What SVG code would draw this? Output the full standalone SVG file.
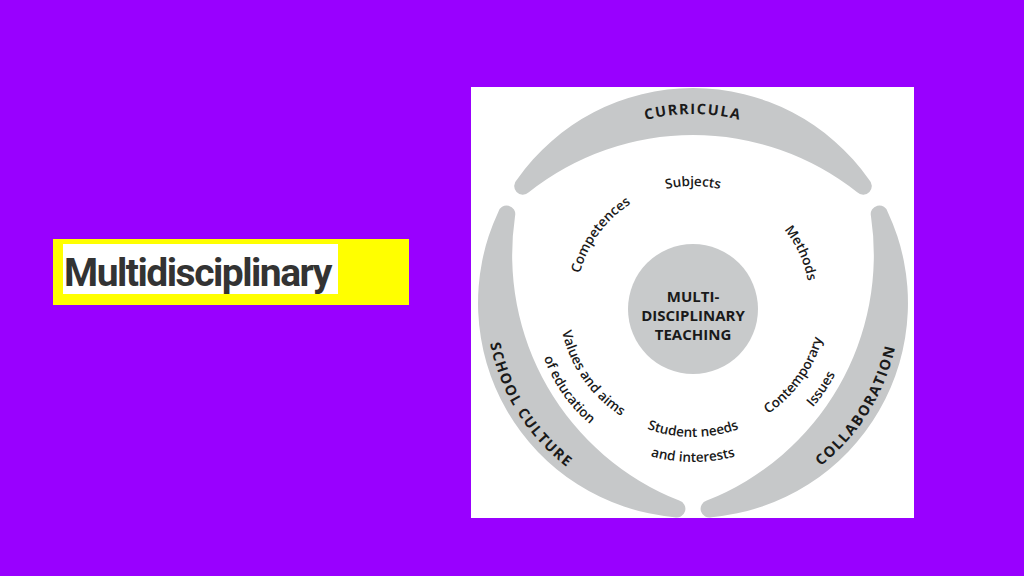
<svg xmlns="http://www.w3.org/2000/svg" xmlns:xlink="http://www.w3.org/1999/xlink" width="1024" height="576" viewBox="0 0 1024 576">
<style>
.ring{fill:#c6c8c9}
.lab{font-family:"Open Sans","Liberation Sans",sans-serif;font-weight:600;font-size:13.5px;fill:#1a1a1a}
.out{font-family:"Open Sans","Liberation Sans",sans-serif;font-weight:700;font-size:14.5px;fill:#1a1a1a;letter-spacing:1.5px}
.ctr{font-family:"Open Sans","Liberation Sans",sans-serif;font-weight:700;font-size:15px;fill:#1a1a1a;text-anchor:middle}
</style>
<defs>
<path id="cwOut" d="M693,492 A189,189 0 0 1 693,114 A189,189 0 0 1 693,492"/>
<path id="ccwOut" d="M693,96 A207,207 0 0 0 693,510 A207,207 0 0 0 693,96"/>
<path id="cwIn" d="M693,420 A117,117 0 0 1 693,186 A117,117 0 0 1 693,420"/>
<path id="ccwIn1" d="M693,169 A134,134 0 0 0 693,437 A134,134 0 0 0 693,169"/>
<path id="ccwIn2" d="M693,144 A159,159 0 0 0 693,462 A159,159 0 0 0 693,144"/>
<path id="crescent" d="M516.9,179.7 A215,215 0 0 1 869.1,179.7 A8,8 0 0 1 857.2,192.3 A264,264 0 0 0 528.8,192.3 A8,8 0 0 1 516.9,179.7 Z"/>
</defs>
<rect width="1024" height="576" fill="#9900ff"/>
<g id="title">
<rect x="53" y="239" width="356" height="66" fill="#ffff00"/>
<rect x="63" y="244" width="275" height="50" fill="#ffffff"/>
<text x="64" y="286" font-family="Roboto,'Liberation Sans',sans-serif" font-weight="700" font-size="39" letter-spacing="-1.5" fill="#333333">Multidisciplinary</text>
</g>
<rect x="471" y="87" width="443" height="431" fill="#ffffff"/>
<g id="ring">
<use href="#crescent" class="ring"/>
<use href="#crescent" class="ring" transform="rotate(120 693 303)"/>
<use href="#crescent" class="ring" transform="rotate(240 693 303)"/>
</g>
<g id="curricula"><text class="out"><textPath href="#cwOut" startOffset="50%" text-anchor="middle">CURRICULA</textPath></text></g>
<g id="school-culture"><text class="out"><textPath href="#ccwOut" startOffset="33.9%" text-anchor="middle">SCHOOL CULTURE</textPath></text></g>
<g id="collaboration"><text class="out"><textPath href="#ccwOut" startOffset="66.1%" text-anchor="middle">COLLABORATION</textPath></text></g>
<g id="center">
<circle cx="693" cy="309" r="65" fill="#c8cacb"/>
<text class="ctr" x="693" y="302">MULTI-</text>
<text class="ctr" x="693" y="321">DISCIPLINARY</text>
<text class="ctr" x="693" y="340">TEACHING</text>
</g>
<g id="subjects"><text class="lab"><textPath href="#cwIn" startOffset="50%" text-anchor="middle">Subjects</textPath></text></g>
<g id="competences"><text class="lab"><textPath href="#cwIn" startOffset="35.1%" text-anchor="middle">Competences</textPath></text></g>
<g id="methods"><text class="lab"><textPath href="#cwIn" startOffset="68.1%" text-anchor="middle">Methods</textPath></text></g>
<g id="contemporary">
<text class="lab"><textPath href="#ccwIn1" startOffset="65.1%" text-anchor="middle">Contemporary</textPath></text>
<text class="lab"><textPath href="#ccwIn2" startOffset="65.6%" text-anchor="middle">Issues</textPath></text>
</g>
<g id="student">
<text class="lab"><textPath href="#ccwIn1" startOffset="50%" text-anchor="middle">Student needs</textPath></text>
<text class="lab"><textPath href="#ccwIn2" startOffset="50%" text-anchor="middle">and interests</textPath></text>
</g>
<g id="values">
<text class="lab"><textPath href="#ccwIn1" startOffset="34.7%" text-anchor="middle">Values and aims</textPath></text>
<text class="lab"><textPath href="#ccwIn2" startOffset="34.7%" text-anchor="middle">of education</textPath></text>
</g>
<g id="connectors"/>
</svg>
